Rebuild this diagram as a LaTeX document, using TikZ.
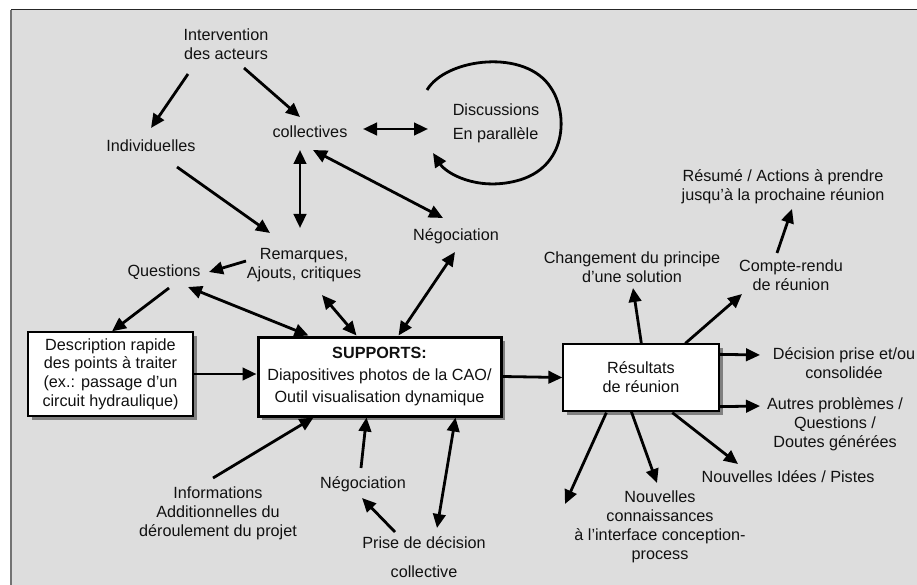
\documentclass[tikz,border=0pt]{standalone}
\usepackage{fontspec}
\setmainfont{Liberation Sans}
\usetikzlibrary{arrows.meta,calc,shadows}
\definecolor{bg}{HTML}{DDDDDD}
\definecolor{txt}{HTML}{111111}
\begin{document}
\begin{tikzpicture}[x=1pt,y=-1pt,
  font=\fontsize{16.2}{19}\selectfont,
  lbl/.style={align=center,inner sep=0pt,text=txt},
  box/.style={draw=black,fill=white,align=center,inner sep=0pt,text=txt,line width=1.3pt,
    drop shadow={shadow xshift=3.5pt,shadow yshift=-3.5pt,fill=black!50,opacity=1}},
  arr/.style={line width=2.8pt,-{Triangle[length=14pt,width=12.5pt]}},
  darr/.style={line width=2.8pt,{Triangle[length=14pt,width=12.5pt]}-{Triangle[length=14pt,width=12.5pt]}}]
\useasboundingbox (0,0) rectangle (917,585);
\fill[bg] (11,10) rectangle (917,585);
\draw[line width=1pt,black!85] (11,10) -- (917,10);
\draw[line width=2pt,black!55] (11,10) -- (11,585);

% nodes
\node[lbl] (interv) at (226,44) {Intervention\\des acteurs};
\node[lbl] (indiv) at (151,146) {Individuelles};
\node[lbl] (coll) at (310,132) {collectives};
\node[lbl,align=left,font=\fontsize{16.2}{24}\selectfont] (disc) at (496,123) {Discussions\\En parallèle};
\node[lbl] (rem) at (304,265) {Remarques,\\Ajouts, critiques};
\node[lbl] (quest) at (164,272) {Questions};
\node[lbl] (neg1) at (456,236) {Négociation};
\node[box,minimum width=165pt,minimum height=84pt,font=\fontsize{16.2}{18.7}\selectfont] (desc) at (110.5,374)
  {Description rapide\\des points à traiter\\(ex.: passage d’un\\circuit hydraulique)};
\node[box,line width=3pt,minimum width=243pt,minimum height=79pt,font=\fontsize{16.2}{22}\selectfont] (supp) at (379.5,376.5)
  {\textbf{SUPPORTS:}\\Diapositives photos de la CAO/\\Outil visualisation dynamique};
\node[lbl] (info) at (218,513) {Informations\\Additionnelles du\\déroulement du projet};
\node[lbl] (neg2) at (363,484) {Négociation};
\node[lbl,font=\fontsize{16.2}{29}\selectfont] (prise) at (424,557) {Prise de décision\\collective};
\node[box,minimum width=156pt,minimum height=67pt] (res) at (641,377.5) {Résultats\\de réunion};
\node[lbl] (chg) at (632,267.5) {Changement du principe\\d’une solution};
\node[lbl] (cr) at (791,275) {Compte-rendu\\de réunion};
\node[lbl] (resume) at (783,187) {Résumé / Actions à prendre\\jusqu’à la prochaine réunion};
\node[lbl] (dec) at (844,363) {Décision prise et/ou\\consolidée};
\node[lbl] (autres) at (835,424) {Autres problèmes /\\Questions /\\Doutes générées};
\node[lbl] (idees) at (788,477) {Nouvelles Idées / Pistes};
\node[lbl] (conn) at (660,526.5) {Nouvelles\\connaissances\\à l’interface conception-\\process};
\coordinate (free) at (565,504);

% connectors
\draw[arr] ($(interv)+(-38,30)$) -- ($(indiv)+(0,-18)$);
\draw[arr] ($(interv)+(18,24)$) -- ($(coll)+(-10,-15)$);
\draw[darr] ($(coll)+(53,-3)$) -- ($(disc)+(-68,6)$);
\draw[arr] ($(disc)+(-69,-33)$) .. controls ($(disc)+(-50,-65)$) and ($(disc)+(30,-75)$) .. ($(disc)+(55,-35)$)
  .. controls ($(disc)+(72,-10)$) and ($(disc)+(72,45)$) .. ($(disc)+(20,58)$)
  .. controls ($(disc)+(-20,68)$) and ($(disc)+(-50,50)$) .. ($(disc)+(-63,30)$);
\draw[darr] ($(coll)+(-10,18)$) -- ($(rem)+(-4,-37)$);
\draw[darr] ($(coll)+(3,18)$) -- ($(neg1)+(-13,-18)$);
\draw[arr] ($(indiv)+(26,21)$) -- ($(rem)+(-34,-32)$);
\draw[arr] ($(rem)+(-58,-4)$) -- ($(quest)+(45,0)$);
\draw[arr] ($(quest)+(5,16)$) -- ($(desc.north)+(1.5,0)$);
\draw[darr] ($(quest)+(24,15)$) -- ($(supp.north west)+(52,0)$);
\draw[darr] ($(rem)+(18,30)$) -- ($(supp.north west)+(100,0)$);
\draw[darr] ($(neg1)+(-1,16)$) -- ($(supp.north west)+(142,0)$);
\draw[arr] (desc.east) -- (desc.east -| supp.west);
\draw[arr] ($(info)+(-5,-35)$) -- ($(supp.south west)+(57,0)$);
\draw[arr] ($(neg2)+(-2,-16)$) -- ($(supp.south west)+(110,0)$);
\draw[arr] ($(prise)+(-29,-25)$) -- ($(neg2)+(-1,14)$);
\draw[darr] ($(prise)+(13,-29)$) -- ($(supp.south west)+(199,0)$);
\draw[arr] (supp.east) -- (res.west);
\draw[arr] ($(res.north west)+(79,0)$) -- ($(chg)+(1,20.5)$);
\draw[arr] ($(res.north west)+(123,0)$) -- ($(cr)+(-49,19)$);
\draw[arr] ($(cr)+(-14,-22)$) -- ($(resume)+(9,22)$);
\draw[arr] ($(res.north east)+(0,11)$) -- ($(dec)+(-84,-8)$);
\draw[arr] ($(res.south east)+(0,-5)$) -- ($(autres)+(-75,-18)$);
\draw[arr] ($(res.south west)+(110,1)$) -- ($(idees)+(-50,-13)$);
\draw[arr] ($(res.south west)+(69,0)$) -- ($(conn)+(-3,-43.5)$);
\draw[arr] ($(res.south west)+(44,1)$) -- (free);
\end{tikzpicture}
\end{document}
